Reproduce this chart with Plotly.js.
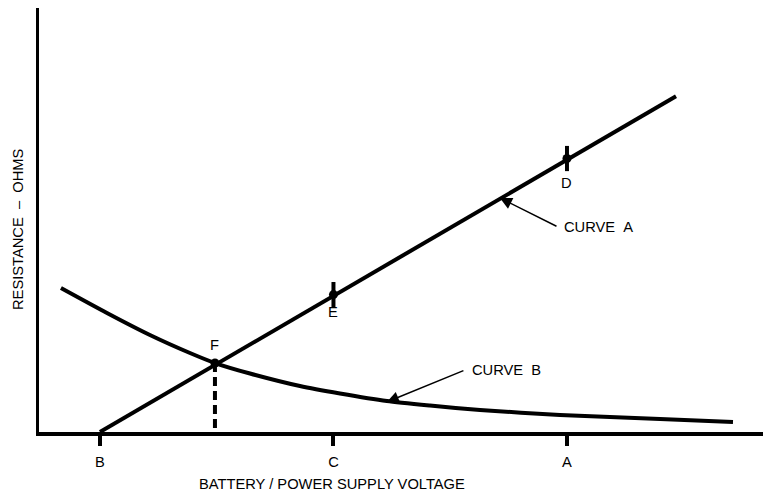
<!DOCTYPE html>
<html>
<head>
<meta charset="utf-8">
<script src="https://cdn.plot.ly/plotly-3.0.1.min.js"></script>
<style>html,body{margin:0;padding:0;background:#fff;}#chart{width:765px;height:496px;}</style>
</head>
<body>
<div id="chart"></div>
<script>
// Voltage ticks
var tickVals = [1, 3, 5];
var tickText = ['B', 'C', 'A'];

// Curve A (straight line)
var curveAX = [1, 5.934];
var curveAY = [0, 7.92];

// Curve B (decaying)
var curveBX = [0.666, 1.060, 1.428, 1.771, 1.985, 2.285, 2.713, 3.056, 3.458, 3.827, 4.255, 4.940, 5.797, 6.422];
var curveBY = [3.396, 2.807, 2.288, 1.863, 1.627, 1.380, 1.085, 0.908, 0.731, 0.625, 0.519, 0.401, 0.307, 0.236];

// Marked points on curve A
var pointNames = ['F', 'E', 'D'];
var pointX = [1.985, 3.0, 5.0];
var pointY = [1.627, 3.24, 6.45];

var font = {family: 'Liberation Sans, Arial, sans-serif', size: 14.7, color: '#000'};

var traces = [
  {x: curveAX, y: curveAY, mode: 'lines', line: {color: '#000', width: 4}, hoverinfo: 'skip'},
  {x: curveBX, y: curveBY, mode: 'lines', line: {color: '#000', width: 4, shape: 'spline', smoothing: 0.6}, hoverinfo: 'skip'},
  {x: [pointX[0], pointX[0]], y: [pointY[0], 0], mode: 'lines', line: {color: '#000', width: 4, dash: '9px,5px'}, hoverinfo: 'skip'},
  {x: pointX.slice(1), y: pointY.slice(1), mode: 'markers', marker: {symbol: 'line-ns', size: 18, line: {color: '#000', width: 4}}, hoverinfo: 'skip'},
  {x: pointX, y: pointY, mode: 'markers', marker: {symbol: 'circle', size: 9, color: '#000'}, hoverinfo: 'skip'}
];

var ann = [
  {x: pointX[0], y: 2.05, text: pointNames[0], showarrow: false, font: font},
  {x: pointX[1], y: 2.82, text: pointNames[1], showarrow: false, font: font},
  {x: pointX[2], y: 5.87, text: pointNames[2], showarrow: false, font: font},
  {x: 4.426, y: 5.519, ax: 4.923, ay: 4.835, axref: 'x', ayref: 'y', text: '', showarrow: true, arrowhead: 2, arrowsize: 1.6, arrowwidth: 1.5, arrowcolor: '#000'},
  {x: 4.96, y: 4.835, text: 'CURVE\u00a0\u00a0A', showarrow: false, xanchor: 'left', font: font},
  {x: 3.458, y: 0.708, ax: 4.126, ay: 1.462, axref: 'x', ayref: 'y', text: '', showarrow: true, arrowhead: 2, arrowsize: 1.6, arrowwidth: 1.5, arrowcolor: '#000'},
  {x: 4.169, y: 1.462, text: 'CURVE\u00a0\u00a0B', showarrow: false, xanchor: 'left', font: font},
  {xref: 'paper', yref: 'paper', x: (332 - 39) / 724, y: -0.122, yanchor: 'middle', text: 'BATTERY / POWER SUPPLY VOLTAGE', showarrow: false, font: font},
  {xref: 'paper', yref: 'paper', x: (18 - 39) / 724, xanchor: 'center', y: (432 - 229) / 424, textangle: -90, text: 'RESISTANCE\u00a0\u00a0–\u00a0\u00a0OHMS', showarrow: false, font: font}
];

var layout = {
  width: 765, height: 496,
  margin: {l: 39, r: 2, t: 8, b: 64},
  paper_bgcolor: '#fff', plot_bgcolor: '#fff',
  showlegend: false,
  font: font,
  xaxis: {range: [0.478, 6.679], showgrid: false, zeroline: false, showline: true, linecolor: '#000', linewidth: 4,
          tickvals: tickVals, ticktext: tickText, ticks: 'outside', ticklen: 10, tickwidth: 4, tickcolor: '#000',
          ticklabelstandoff: 3, tickfont: font},
  yaxis: {range: [0, 10], showgrid: false, zeroline: false, showline: true, linecolor: '#000', linewidth: 3,
          showticklabels: false, ticks: ''},
  annotations: ann
};

Plotly.newPlot('chart', traces, layout, {displayModeBar: false, staticPlot: true});
</script>
</body>
</html>
